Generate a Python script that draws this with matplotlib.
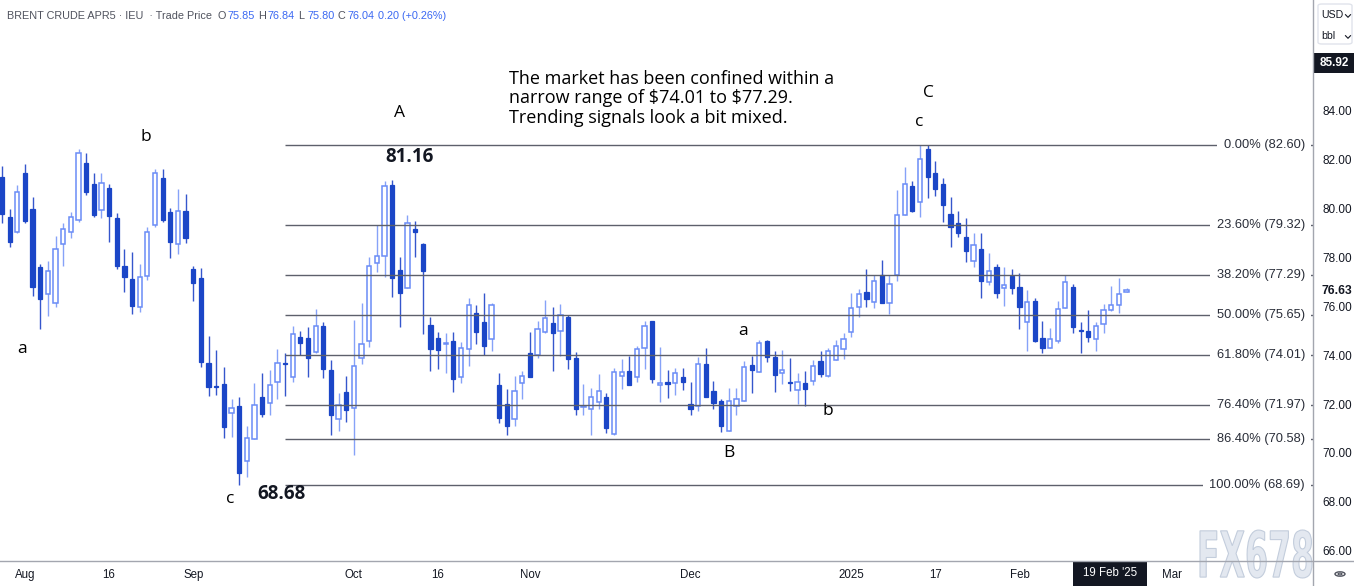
import matplotlib
matplotlib.use('Agg')
import matplotlib.pyplot as plt
import numpy as np
import pandas as pd
from matplotlib.patches import Rectangle, Circle, PathPatch, FancyBboxPatch
from matplotlib.lines import Line2D
from matplotlib.textpath import TextPath
from matplotlib.font_manager import FontProperties
from matplotlib.transforms import Affine2D, IdentityTransform, blended_transform_factory

plt.rcParams['font.family'] = ['Liberation Sans', 'DejaVu Sans']

# ---------------- data (daily OHLC, Brent Crude Apr-25, 29 Jul 2024 .. 21 Feb 2025) ----------------
opens = [81.30, 79.64, 79.03, 81.44, 79.98, 77.62, 76.49, 76.15, 78.55, 79.03,
         79.53, 81.88, 81.00, 79.94, 80.85, 79.60, 77.65, 77.12, 75.96, 77.24,
         79.33, 81.26, 79.87, 78.54, 79.91, 77.51, 77.14, 73.67, 72.72, 72.81,
         71.62, 71.92, 69.68, 70.58, 72.30, 72.06, 72.89, 73.68, 73.12, 74.76,
         74.70, 74.12, 75.18, 73.39, 71.40, 72.49, 71.83, 73.87, 74.58, 77.79,
         78.06, 80.96, 77.49, 76.73, 79.15, 78.56, 75.23, 74.70, 74.45, 74.59,
         73.09, 74.24, 75.71, 75.34, 74.65, 72.78, 72.00, 71.37, 72.85, 74.08,
         74.01, 74.96, 75.30, 74.99, 75.55, 73.87, 71.86, 71.78, 72.10, 72.29,
         70.77, 73.15, 73.37, 73.09, 74.28, 75.38, 72.80, 72.86, 72.85, 73.11,
         72.00, 71.92, 73.63, 72.53, 72.11, 70.91, 71.93, 72.14, 73.58, 73.33,
         74.58, 73.91, 73.26, 72.89, 72.58, 72.85, 72.96, 73.78, 73.15, 73.80,
         74.24, 74.94, 75.99, 76.57, 76.16, 77.28, 76.15, 77.28, 79.75, 80.92,
         80.28, 82.42, 81.44, 80.99, 79.78, 79.40, 78.85, 77.84, 78.36, 77.01,
         77.62, 76.76, 77.24, 76.78, 75.37, 76.22, 74.69, 74.28, 74.58, 75.92,
         76.80, 75.02, 74.99, 74.66, 75.26, 75.85, 76.04, 76.60]
highs = [81.74, 79.98, 80.96, 81.81, 80.46, 77.73, 77.87, 78.88, 79.40, 79.85,
         82.42, 82.29, 81.44, 81.44, 80.99, 79.80, 78.35, 78.21, 77.72, 79.26,
         81.60, 81.60, 80.01, 80.79, 80.60, 77.65, 77.55, 74.80, 74.21, 73.53,
         72.19, 72.30, 71.10, 72.88, 73.26, 73.39, 74.27, 74.08, 75.18, 75.00,
         75.17, 75.88, 75.37, 73.80, 72.47, 73.15, 75.44, 76.12, 78.03, 79.33,
         81.12, 81.16, 78.03, 79.74, 79.50, 78.60, 75.58, 74.93, 74.89, 74.93,
         74.55, 76.33, 76.05, 76.53, 76.12, 73.28, 72.60, 73.15, 73.37, 74.95,
         75.40, 76.26, 75.98, 76.09, 75.64, 74.14, 72.82, 72.64, 73.22, 72.47,
         73.49, 73.84, 73.95, 74.39, 75.41, 75.40, 74.35, 73.38, 73.48, 73.48,
         72.90, 73.91, 74.28, 72.94, 72.19, 72.64, 72.64, 73.78, 73.97, 74.62,
         74.62, 74.18, 74.21, 73.87, 73.26, 73.37, 73.80, 74.18, 74.28, 74.62,
         74.89, 76.53, 76.71, 77.53, 77.28, 77.89, 77.28, 80.76, 81.69, 81.14,
         82.58, 82.60, 81.96, 81.24, 80.46, 79.90, 79.60, 78.99, 78.99, 78.17,
         77.73, 77.62, 77.51, 77.35, 76.67, 76.33, 75.41, 75.10, 76.23, 77.28,
         76.91, 75.37, 75.85, 75.37, 76.09, 76.84, 77.14, 76.74]
lows = [79.39, 78.44, 79.01, 79.42, 76.44, 75.07, 75.60, 75.99, 77.65, 78.78,
        79.46, 80.55, 79.64, 79.63, 78.64, 77.51, 76.57, 75.67, 75.78, 77.08,
        79.26, 79.46, 77.96, 78.14, 78.58, 76.23, 73.53, 72.34, 72.37, 70.60,
        70.67, 68.68, 69.00, 70.58, 71.48, 71.55, 72.19, 72.34, 72.92, 74.01,
        73.12, 74.10, 73.05, 70.73, 70.91, 71.28, 69.92, 73.63, 74.32, 77.42,
        77.21, 76.39, 75.17, 76.73, 78.03, 74.87, 73.35, 73.43, 73.26, 72.51,
        72.85, 73.57, 74.44, 74.01, 74.18, 71.21, 70.73, 71.10, 72.22, 73.09,
        73.90, 74.89, 73.37, 73.98, 73.43, 71.55, 71.56, 70.72, 71.80, 70.83,
        70.72, 72.63, 72.79, 72.92, 73.43, 72.85, 72.10, 72.26, 72.38, 72.56,
        71.55, 71.70, 72.30, 71.81, 70.87, 70.91, 71.55, 72.14, 72.44, 73.33,
        73.71, 72.51, 72.82, 72.55, 72.00, 71.93, 72.78, 73.09, 73.09, 73.80,
        73.84, 74.73, 75.58, 75.99, 75.92, 76.12, 75.68, 77.05, 79.75, 79.87,
        79.64, 80.45, 80.51, 79.46, 78.44, 78.82, 77.83, 77.60, 76.33, 76.87,
        76.33, 76.01, 76.50, 75.06, 74.18, 74.55, 74.10, 74.28, 74.51, 75.92,
        74.92, 74.08, 74.55, 74.18, 74.92, 75.80, 75.74, 76.60]
closes = [79.78, 78.64, 80.69, 79.50, 76.80, 76.30, 77.43, 78.33, 79.15, 79.67,
          82.29, 80.66, 79.74, 81.03, 79.70, 77.65, 77.19, 76.03, 77.21, 79.03,
          81.44, 79.53, 78.64, 79.91, 78.78, 76.94, 73.73, 72.68, 72.68, 71.05,
          71.84, 69.19, 70.60, 71.96, 71.59, 72.77, 73.68, 73.65, 74.88, 74.49,
          73.89, 75.18, 73.45, 71.57, 71.96, 71.74, 73.57, 74.47, 77.64, 78.06,
          80.92, 77.17, 76.56, 79.39, 79.04, 77.44, 74.24, 74.20, 74.48, 73.02,
          74.28, 76.04, 74.96, 74.38, 76.04, 71.42, 71.10, 72.55, 73.15, 73.09,
          75.07, 75.51, 74.89, 75.64, 73.84, 71.81, 71.90, 72.27, 72.55, 71.02,
          73.30, 73.30, 72.79, 74.24, 75.18, 73.01, 72.83, 72.84, 73.27, 72.92,
          71.81, 73.63, 72.30, 72.06, 71.10, 72.14, 72.19, 73.50, 73.39, 74.51,
          73.91, 73.19, 73.39, 72.86, 72.92, 72.63, 73.57, 73.23, 74.18, 74.38,
          74.65, 75.92, 76.50, 76.30, 77.04, 76.15, 76.91, 79.74, 80.99, 79.91,
          82.01, 81.30, 80.79, 80.15, 79.26, 78.99, 78.28, 78.50, 77.05, 77.46,
          76.56, 76.87, 76.74, 75.96, 76.19, 74.59, 74.28, 74.65, 75.88, 77.01,
          75.14, 74.99, 74.73, 75.21, 75.84, 76.04, 76.49, 76.63]

fib_pct = [0.0, 23.6, 38.2, 50.0, 61.8, 76.4, 86.4, 100.0]
fib_val = [82.60, 79.32, 77.29, 75.65, 74.01, 71.97, 70.58, 68.69]

tick_dates = ['2024-08-01', '2024-08-16', '2024-09-02', '2024-10-01', '2024-10-16',
              '2024-11-01', '2024-12-02', '2025-01-02', '2025-01-17', '2025-02-03', '2025-03-03']
tick_labels = ['Aug', '16', 'Sep', 'Oct', '16', 'Nov', 'Dec', '2025', '17', 'Feb', 'Mar']
price_ticks = [66, 68, 70, 72, 74, 76, 78, 80, 82, 84]
holidays = ['2024-12-25', '2025-01-01']
cursor_price = 85.92
hover_idx = 145

# ---------------- layout ----------------
W, H = 1354, 586
fig = plt.figure(figsize=(W / 100, H / 100), dpi=100)
fig.patch.set_facecolor('white')
AX_R, AX_B = 1313, 561
ax = fig.add_axes([0, (H - AX_B) / H, AX_R / W, AX_B / H])
for s in ax.spines.values():
    s.set_visible(False)

X0, DX = 2.0, 7.65          # pixel position of first bar, bar spacing
PY0, PPX = 88.533, 24.44    # price at top edge, pixels per unit
ax.set_xlim((0 - X0) / DX, (AX_R - X0) / DX)
ax.set_ylim(PY0 - AX_B / PPX, PY0)

def fx(x):
    return x / W

def fy(y):
    return 1 - y / H

days = pd.bdate_range('2024-07-29', '2025-03-14')
days = days[~days.isin(pd.to_datetime(holidays))]

o = np.array(opens); h = np.array(highs); l = np.array(lows); c = np.array(closes)
x = np.arange(len(o))
up = c >= o

bull_body = '#6a8cf6'
bull_wick = '#86a2f8'
bear_body = '#1b46c7'
bear_wick = '#3556cc'

ax.vlines(x[up], l[up], h[up], color=bull_wick, lw=1.0, zorder=2)
ax.vlines(x[~up], l[~up], h[~up], color=bear_wick, lw=1.0, zorder=2)
lo = np.minimum(o, c)
bh = np.maximum(np.abs(c - o), 0.05)
ax.bar(x[up], bh[up], bottom=lo[up], width=0.56, facecolor='white',
       edgecolor=bull_body, linewidth=1.1, zorder=3)
ax.bar(x[~up], bh[~up], bottom=lo[~up], width=0.56, facecolor=bear_body,
       edgecolor=bear_body, linewidth=0.9, zorder=3)

# Fibonacci retracement
fib_start = 37
ax.hlines(fib_val, fib_start - 0.05, ax.get_xlim()[1], color='#5d606b', lw=1.0, zorder=4)
btr = blended_transform_factory(ax.transAxes, ax.transData)
for p, v in zip(fib_pct, fib_val):
    ax.text(1305 / AX_R, v, f'{p:.2f}% ({v:.2f})', transform=btr, ha='right', va='center',
            fontsize=9.3, color='#2a2e39', zorder=5,
            bbox=dict(boxstyle='square,pad=0.5', fc='white', ec='none'))

# axes ticks
ax.yaxis.tick_right()
ax.set_yticks(price_ticks)
ax.set_yticklabels([f'{t:.2f}' for t in price_ticks])
ax.tick_params(axis='y', length=0, pad=6.5, labelsize=8.5, labelcolor='#131722')
tick_pos = [days.get_loc(pd.Timestamp(d)) for d in tick_dates]
ax.set_xticks(tick_pos)
ax.set_xticklabels(tick_labels)
ax.tick_params(axis='x', length=0, pad=6, labelsize=8.3, labelcolor='#131722')

# separators
fig.add_artist(Line2D([fx(AX_R), fx(AX_R)], [0, 1], color='#a3a6af', lw=1.0))
fig.add_artist(Line2D([0, 1], [fy(AX_B), fy(AX_B)], color='#a3a6af', lw=1.0))

# header
blue = '#3a68f2'
grey = '#50535e'
chg = closes[hover_idx] - closes[hover_idx - 1]
pct = chg / closes[hover_idx - 1] * 100
pieces = [(7, 'BRENT CRUDE APR5 · IEU  · Trade Price', grey),
          (218, 'O', grey), (227, f'{opens[hover_idx]:.2f}', blue),
          (258, 'H', grey), (267, f'{highs[hover_idx]:.2f}', blue),
          (298, 'L', grey), (307, f'{lows[hover_idx]:.2f}', blue),
          (338, 'C', grey), (348, f'{closes[hover_idx]:.2f}', blue),
          (378, f'{chg:.2f} ({pct:+.2f}%)', blue)]
for px, t, col in pieces:
    fig.text(fx(px), fy(16), t, fontsize=7.8, color=col, ha='left', va='center')

# annotations
ann_font = ['Open Sans', 'DejaVu Sans']
para = ['The market has been confined within a',
        'narrow range of $74.01 to $77.29.',
        'Trending signals look a bit mixed.']
for k, line in enumerate(para):
    fig.text(fx(509), fy(79 + 19.3 * k), line.replace('$', r'\$'), fontsize=13, color='#000000',
             ha='left', va='center', family=ann_font)

waves = [('A', 400, 113), ('B', 729, 453), ('C', 928, 93),
         ('a', 22, 349), ('b', 146, 137), ('c', 230, 499),
         ('a', 743, 331), ('b', 828, 411), ('c', 919, 122)]
for t, px, py in waves:
    fig.text(fx(px), fy(py), t, fontsize=12.5, color='#000000', ha='center', va='center',
             family=ann_font)
fig.text(fx(410), fy(157), f'{max(highs[45:60]):.2f}', fontsize=13.5, fontweight='bold',
         color='#131722', ha='center', va='center', family=ann_font)
fig.text(fx(281), fy(494), f'{min(lows):.2f}', fontsize=13.5, fontweight='bold',
         color='#131722', ha='center', va='center', family=ann_font)

# right scale extras
fig.add_artist(FancyBboxPatch((fx(1318), fy(44)), fx(34), 40 / H, boxstyle='round,pad=0,rounding_size=0.003',
                              transform=fig.transFigure, fc='white', ec='#e0e3eb', lw=1))
fig.text(fx(1321), fy(15), 'USD', fontsize=7.6, color='#131722', ha='left', va='center')
fig.text(fx(1321), fy(36), 'bbl', fontsize=7.6, color='#131722', ha='left', va='center')
for yy in (16, 37):
    fig.add_artist(Line2D([fx(1345.5), fx(1348), fx(1350.5)], [fy(yy - 1.3), fy(yy + 1.3), fy(yy - 1.3)],
                          color='#131722', lw=0.8))
fig.add_artist(Rectangle((fx(AX_R + 1), fy(73)), fx(W - AX_R), 20 / H, transform=fig.transFigure,
                         fc='#131722', ec='none'))
fig.text(fx(1334), fy(63), f'{cursor_price:.2f}', fontsize=8.5, fontweight='bold', color='white',
         ha='center', va='center')
ax.text(1322 / AX_R, closes[-1], f'{closes[-1]:.2f}', transform=btr, fontsize=8.7, fontweight='bold',
        color='#131722', ha='left', va='center', clip_on=False)

# date cursor label
fig.add_artist(Rectangle((fx(1073), 0), fx(74), (H - AX_B - 1) / H, transform=fig.transFigure,
                         fc='#131722', ec='none'))
fig.text(fx(1110), fy(573), days[hover_idx].strftime("%-d %b '%y"), fontsize=8.3, color='white',
         ha='center', va='center')

# gear icon
fig.add_artist(Circle((fx(1340), fy(574)), 5 / W, transform=fig.transFigure, fc='none', ec='#50535e', lw=1.0))
fig.add_artist(Circle((fx(1340), fy(574)), 2 / W, transform=fig.transFigure, fc='none', ec='#50535e', lw=0.8))

# watermark
tp = TextPath((0, 0), 'FX678', size=50, prop=FontProperties(family='DejaVu Sans', weight='bold'))
bb = tp.get_extents()
tr = Affine2D().translate(-bb.x0, -bb.y0).scale(112 / bb.width, 48 / bb.height).translate(1200, H - 578)
fig.add_artist(PathPatch(tr.transform_path(tp), transform=IdentityTransform(),
                         fc='#e3e8f0', ec='#c3cddc', lw=0.8, zorder=0.5))

fig.savefig('out.png', dpi=100, facecolor='white')
